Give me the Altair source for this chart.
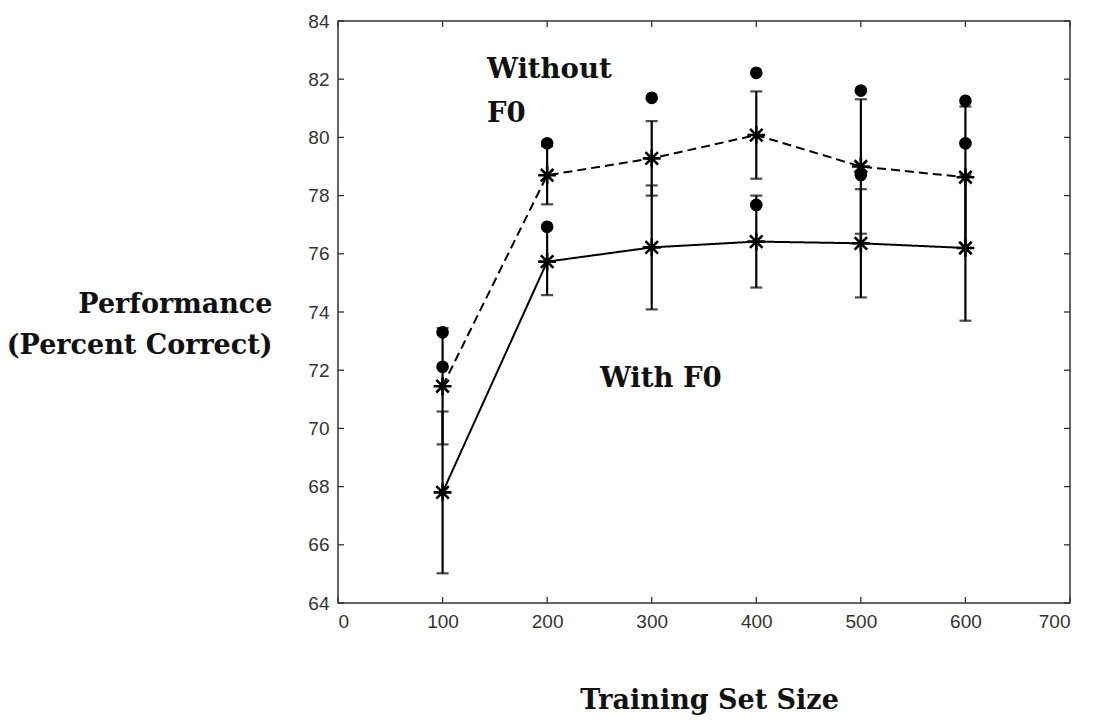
import altair as alt
import pandas as pd

# ---- data ----
sizes = [100, 200, 300, 400, 500, 600]
without_mean = [71.45, 78.70, 79.28, 80.08, 79.00, 78.63]
without_err = [2.00, 1.00, 1.28, 1.50, 2.31, 2.43]
with_mean = [67.80, 75.73, 76.22, 76.42, 76.36, 76.20]
with_err = [2.78, 1.15, 2.13, 1.58, 1.86, 2.50]

without_best_sizes = [100, 200, 300, 400, 500, 600]
without_best = [73.30, 79.80, 81.36, 82.22, 81.61, 81.26]
with_best_sizes = [100, 200, 400, 500, 600]
with_best = [72.12, 76.93, 77.68, 78.71, 79.80]

x_ticks = [0, 100, 200, 300, 400, 500, 600, 700]
y_ticks = [64, 66, 68, 70, 72, 74, 76, 78, 80, 82, 84]

series_names = ["Without F0", "With F0"]

rows = []
for s, m, e in zip(sizes, without_mean, without_err):
    rows.append({"series": "Without F0", "size": s, "mean": m, "lo": m - e, "hi": m + e})
for s, m, e in zip(sizes, with_mean, with_err):
    rows.append({"series": "With F0", "size": s, "mean": m, "lo": m - e, "hi": m + e})
df = pd.DataFrame(rows)

dots = pd.DataFrame({
    "size": without_best_sizes + with_best_sizes,
    "best": without_best + with_best,
})

labels = pd.DataFrame({
    "x": [142.5, 142.5, 250.5],
    "y": [82.04, 80.53, 71.42],
    "text": ["Without", "F0", "With F0"],
})

xt = pd.DataFrame({"t": x_ticks})
yt = pd.DataFrame({"t": y_ticks})

W, H = 732, 582
AX = "#333333"

xscale = alt.Scale(domain=[0, 700], nice=False, zero=False)
yscale = alt.Scale(domain=[64, 84], nice=False, zero=False)

x_axis = alt.Axis(
    values=x_ticks, format="d", ticks=False, domain=False, grid=False,
    labelFont="Liberation Sans", labelFontSize=19, labelColor=AX, labelPadding=9,
    title="Training Set Size", titleFont="DejaVu Serif", titleFontSize=27,
    titleFontWeight="bold", titleColor="#111111", titleAnchor="start",
    titleAlign="center", titleBaseline="alphabetic", titleX=371, titleY=105,
)
y_axis = alt.Axis(
    values=y_ticks, format="d", ticks=False, domain=False, grid=False,
    labelFont="Liberation Sans", labelFontSize=19, labelColor=AX, labelPadding=9,
    title=["Performance", "(Percent Correct)"], titleFont="DejaVu Serif",
    titleFontSize=27, titleFontWeight="bold", titleColor="#111111",
    titleAngle=0, titleAlign="right", titleBaseline="alphabetic",
    titleX=-66, titleY=291, titleLineHeight=41,
)


def X(field):
    return alt.X(field, scale=xscale, axis=x_axis)


def Y(field):
    return alt.Y(field, scale=yscale, axis=y_axis)


base = alt.Chart(df)

lines = base.mark_line(color="black", strokeWidth=2).encode(
    x=X("size:Q"),
    y=Y("mean:Q"),
    detail="series:N",
    strokeDash=alt.StrokeDash(
        "series:N",
        scale=alt.Scale(domain=series_names, range=[[9, 5], [1, 0]]),
        legend=None,
    ),
)

bars = base.mark_rule(color="black", strokeWidth=2.2).encode(
    x=X("size:Q"), y=Y("lo:Q"), y2="hi:Q",
)
cap_lo = base.mark_tick(color="black", orient="horizontal", size=12, thickness=2.2).encode(
    x=X("size:Q"), y=Y("lo:Q"),
)
cap_hi = base.mark_tick(color="black", orient="horizontal", size=12, thickness=2.2).encode(
    x=X("size:Q"), y=Y("hi:Q"),
)

star_path = "M-1,0L1,0M0,-1L0,1M-0.7,-0.7L0.7,0.7M-0.7,0.7L0.7,-0.7"
stars = base.mark_point(shape=star_path, filled=False, color="black",
                        strokeWidth=2.6, size=320, opacity=1).encode(
    x=X("size:Q"), y=Y("mean:Q"),
)

best = alt.Chart(dots).mark_point(shape="circle", filled=True, color="black",
                                  size=160, opacity=1).encode(
    x=X("size:Q"), y=Y("best:Q"),
)

texts = alt.Chart(labels).mark_text(
    font="DejaVu Serif", fontSize=27.5, fontWeight="bold", color="#111111",
    align="left", baseline="alphabetic",
).encode(
    x=X("x:Q"), y=Y("y:Q"), text="text:N",
)

tick_len = 6
bottom_ticks = alt.Chart(xt).mark_rule(color=AX, strokeWidth=1.3).encode(
    x=X("t:Q"), y=alt.value(H), y2=alt.value(H - tick_len),
)
top_ticks = alt.Chart(xt).mark_rule(color=AX, strokeWidth=1.3).encode(
    x=X("t:Q"), y=alt.value(0), y2=alt.value(tick_len),
)
left_ticks = alt.Chart(yt).mark_rule(color=AX, strokeWidth=1.3).encode(
    y=Y("t:Q"), x=alt.value(0), x2=alt.value(tick_len),
)
right_ticks = alt.Chart(yt).mark_rule(color=AX, strokeWidth=1.3).encode(
    y=Y("t:Q"), x=alt.value(W - tick_len), x2=alt.value(W),
)

chart = alt.layer(
    lines, bottom_ticks, top_ticks, left_ticks, right_ticks,
    bars, cap_lo, cap_hi, stars, best, texts,
).properties(
    width=W, height=H,
    autosize=alt.AutoSizeParams(type="none"),
    padding={"left": 330, "top": 13, "right": 17, "bottom": 112},
    background="white",
).configure_view(
    stroke=AX, strokeWidth=1.5,
)

chart.save("out.html", embed_options={"renderer": "svg", "actions": False})
